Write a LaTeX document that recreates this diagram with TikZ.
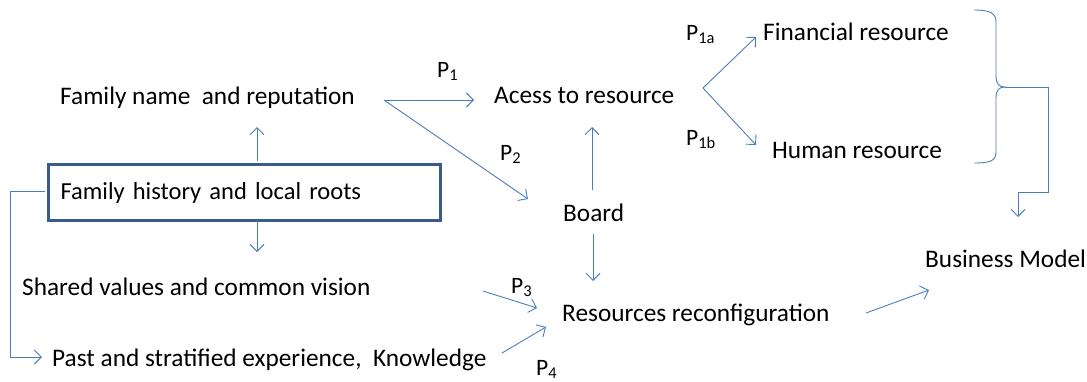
\documentclass[tikz,border=0pt]{standalone}
\usepackage{fontspec}
\setmainfont{Carlito}
\usetikzlibrary{arrows.meta,calc}
\definecolor{lineblue}{HTML}{4A7EBB}
\definecolor{boxblue}{HTML}{385D8A}
\begin{document}
\begin{tikzpicture}[x=1pt,y=-1pt,
  lbl/.style={inner sep=0pt,anchor=base west,font=\fontsize{25.3}{29}\selectfont},
  plbl/.style={inner sep=0pt,anchor=base west,font=\fontsize{23.5}{27}\selectfont},
  conn/.style={draw=lineblue,line width=0.9pt,-{Straight Barb[length=7pt,width=14pt,line width=0.9pt]}},
  plain/.style={draw=lineblue,line width=0.9pt}]
\useasboundingbox (0,0) rectangle (1087,381);
% nodes
\node[lbl] (fname) at (60,104) {Family name\ \ and reputation};
\node[draw=boxblue,line width=3pt,anchor=north west,minimum width=392pt,minimum height=56pt,
      text width=368pt,inner xsep=12pt,align=left,inner ysep=0pt,font=\fontsize{24.5}{28}\selectfont] (hist) at (47,163) {Family history and local roots};
\node[lbl] (shared) at (22,295) {Shared values and common vision};
\node[lbl] (past) at (52,366) {Past and stratified experience,\ \ Knowledge};
\node[lbl] (acess) at (494,103) {Acess to resource};
\node[lbl] (board) at (563,221) {Board};
\node[lbl] (reconf) at (562,321) {Resources reconfiguration};
\node[lbl] (bm) at (925,267) {Business Model};
\node[lbl] (fin) at (763,40) {Financial resource};
\node[lbl] (hum) at (772,158) {Human resource};
% labels
\node[plbl] (p1) at (437,77) {P\textsubscript{1}};
\node[plbl] (p2) at (500,160) {P\textsubscript{2}};
\node[plbl] (p1a) at (686,40) {P\textsubscript{1a}};
\node[plbl] (p1b) at (686,145) {P\textsubscript{1b}};
\node[plbl] (p3) at (511,293) {P\textsubscript{3}};
\node[plbl] (p4) at (536,375) {P\textsubscript{4}};
% coordinates
\coordinate (fnE) at (384,100);
\coordinate (acW) at (474,100);
\coordinate (boNW) at (528,199);
\coordinate (histT) at (257,161);
\coordinate (fnB) at (257,127);
\coordinate (histB) at (257,221);
\coordinate (shT) at (257,252);
\coordinate (histL) at (45,191);
\coordinate (pastW) at (42,357);
\coordinate (boT) at (592,190);
\coordinate (acB) at (592,127);
\coordinate (boB) at (593,234);
\coordinate (reT) at (593,281);
\coordinate (shE) at (483,291);
\coordinate (reW1) at (537,308);
\coordinate (paE) at (502,353);
\coordinate (reW2) at (546,327);
\coordinate (reE) at (866,313);
\coordinate (bmW) at (929,290);
\coordinate (vert) at (703,88);
\coordinate (finW) at (756,37);
\coordinate (humW) at (756,145);
\coordinate (brTip) at (1005,87);
\coordinate (bmT) at (1018,217);
% connectors
\draw[conn] (fnE) -- (acW);
\draw[conn] (fnE) -- (boNW);
\draw[conn] (histT) -- (fnB);
\draw[conn] (histB) -- (shT);
\draw[conn] (histL) -- (10,191) -- (10,357) -- (pastW);
\draw[conn] (boT) -- (acB);
\draw[conn] (boB) -- (reT);
\draw[conn] (shE) -- (reW1);
\draw[conn] (paE) -- (reW2);
\draw[conn] (reE) -- (bmW);
\draw[conn] (vert) -- (finW);
\draw[conn] (vert) -- (humW);
% brace
\draw[plain] (974,10) .. controls (990,10) and (996,13) .. (996,22) -- (996,76)
   .. controls (996,84) and (999,87) .. (brTip)
   .. controls (999,87) and (996,90) .. (996,98) -- (996,152)
   .. controls (996,161) and (990,163) .. (974,163);
\draw[conn] (brTip) -- (1048,87) -- (1048,192) -- (1018,192) -- (bmT);
\end{tikzpicture}
\end{document}
